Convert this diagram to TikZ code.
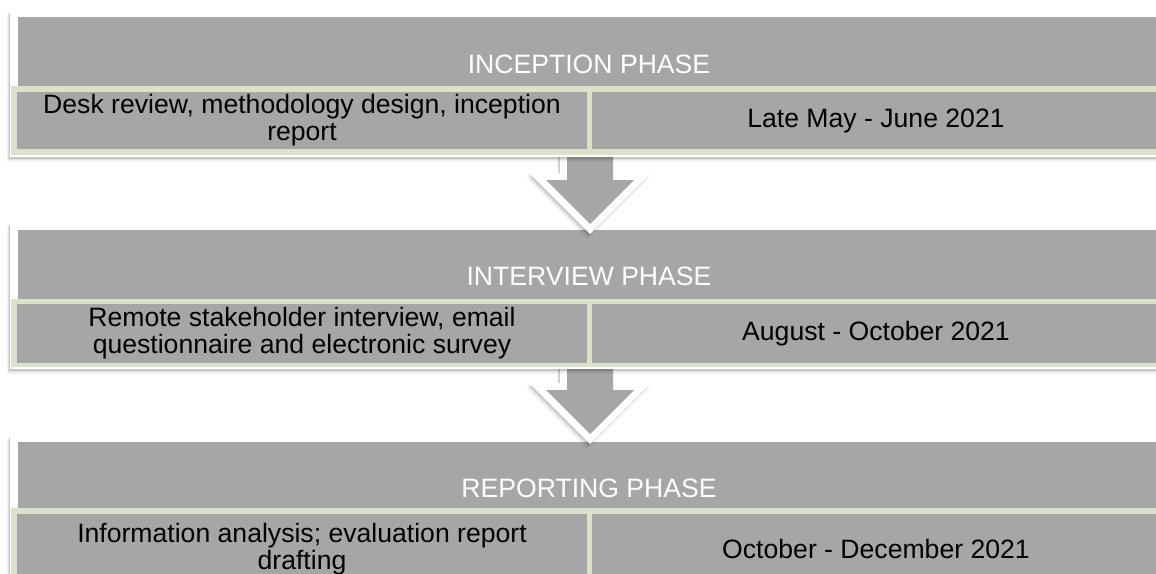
\documentclass[tikz,border=0pt]{standalone}
\usepackage{fontspec}
\setmainfont{Liberation Sans}
\usetikzlibrary{shadows}
\definecolor{cellgray}{RGB}{166,166,166}
\definecolor{rowgreen}{RGB}{218,226,204}
\tikzset{
  softshadow/.style={
    drop shadow={shadow xshift=-1pt, shadow yshift=-1.5pt, opacity=0.10, fill=black},
    drop shadow={shadow xshift=-2pt, shadow yshift=-3pt, opacity=0.08, fill=black},
    drop shadow={shadow xshift=-3pt, shadow yshift=-5pt, opacity=0.05, fill=black}},
  frame/.style={fill=white, softshadow},
  hdr/.style={fill=cellgray},
  rowbg/.style={fill=rowgreen},
  cellbox/.style={fill=cellgray},
  hdrtext/.style={text=white, font=\fontsize{26.6}{26.6}\selectfont, anchor=base, inner sep=0pt},
  celltext/.style={text=black, font=\fontsize{26.6}{27}\selectfont, align=center, inner sep=0pt, anchor=center},
  arrowouter/.style={fill=white, softshadow},
  arrowinner/.style={fill=cellgray}
}
\begin{document}
\begin{tikzpicture}[x=1pt,y=-1pt]
\clip (0,0) rectangle (1156,573);
\fill[white] (0,0) rectangle (1156,573);

% ---------- Panel 3 ----------
\path[frame] (10,435) rectangle (1175,610);
\fill[hdr] (18,442) rectangle (1175,508);
\fill[rowbg] (11,508) rectangle (1175,610);
\fill[cellbox] (17,514) rectangle (587,610);
\fill[cellbox] (592,514) rectangle (1175,610);
\node[hdrtext] (h3) at (589,497) {REPORTING PHASE};
\node[celltext] (l3) at (302,549) {Information analysis; evaluation report\\drafting};
\node[celltext] (r3) at (876,549) {October - December 2021};

% ---------- Arrow 2 ----------
\path[arrowouter] (560,355) -- (560,383) -- (529,383) -- (590,444) -- (651,383) -- (620,383) -- (620,355) -- cycle;
\path[arrowinner] (567,355) -- (567,390) -- (546,390) -- (590,434) -- (634,390) -- (613,390) -- (613,355) -- cycle;

% ---------- Panel 2 ----------
\path[frame] (10,222) rectangle (1175,369);
\fill[hdr] (18,230) rectangle (1175,299);
\fill[rowbg] (11,299) rectangle (1175,367);
\fill[cellbox] (17,304) rectangle (587,363);
\fill[cellbox] (592,304) rectangle (1175,363);
\node[hdrtext] (h2) at (589,285) {INTERVIEW PHASE};
\node[celltext] (l2) at (302,333.5) {Remote stakeholder interview, email\\questionnaire and electronic survey};
\node[celltext] (r2) at (876,333.5) {August - October 2021};

% ---------- Arrow 1 ----------
\path[arrowouter] (560,140) -- (560,173) -- (529,173) -- (590,234) -- (651,173) -- (620,173) -- (620,140) -- cycle;
\path[arrowinner] (567,140) -- (567,180) -- (546,180) -- (590,224) -- (634,180) -- (613,180) -- (613,140) -- cycle;

% ---------- Panel 1 ----------
\path[frame] (10,10) rectangle (1175,157);
\fill[hdr] (18,17) rectangle (1175,86);
\fill[rowbg] (11,86) rectangle (1175,155);
\fill[cellbox] (17,92) rectangle (587,149);
\fill[cellbox] (592,92) rectangle (1175,149);
\node[hdrtext] (h1) at (589,73) {INCEPTION PHASE};
\node[celltext] (l1) at (302,120.5) {Desk review, methodology design, inception\\report};
\node[celltext] (r1) at (876,120.5) {Late May - June 2021};
\end{tikzpicture}
\end{document}
